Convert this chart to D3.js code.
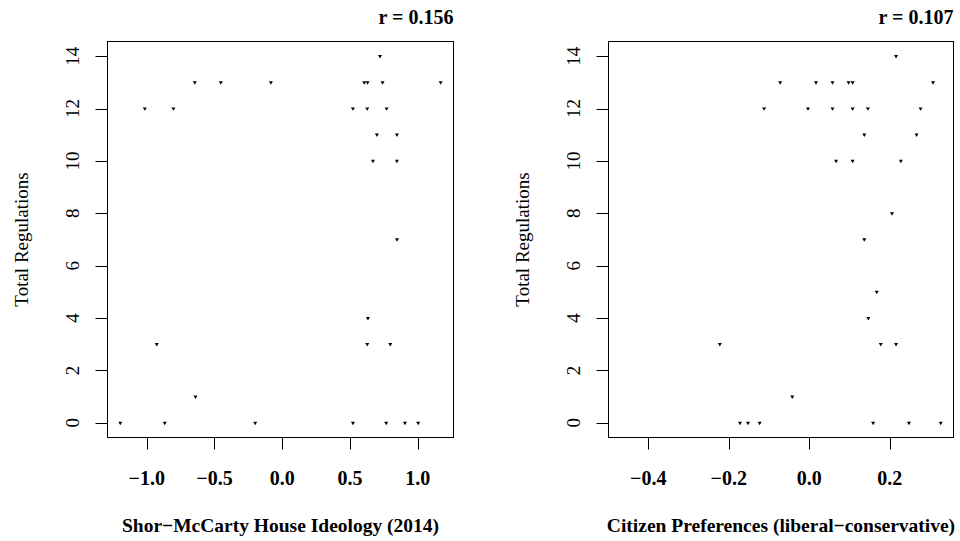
<!DOCTYPE html>
<html>
<head>
<meta charset="utf-8">
<script src="https://cdn.jsdelivr.net/npm/d3@7"></script>
<style>
  body { margin: 0; background: #fff; }
  text { font-family: "Liberation Serif", "DejaVu Serif", serif; fill: #000; }
</style>
</head>
<body>
<script>
// left panel: Shor-McCarty ideology vs total regulations
var ideology = [0.722,
    -0.645, -0.453, -0.083, 0.606, 0.630, 0.741, 1.170,
    -1.014, -0.803, 0.522, 0.628, 0.771,
    0.699, 0.847,
    0.670, 0.847,
    0.847,
    0.633,
    -0.926, 0.628, 0.798,
    -0.640,
    -1.195, -0.867, -0.199, 0.522, 0.768, 0.906, 1.004];
var ideologyRegs = [14,
    13, 13, 13, 13, 13, 13, 13,
    12, 12, 12, 12, 12,
    11, 11,
    10, 10,
    7,
    4,
    3, 3, 3,
    1,
    0, 0, 0, 0, 0, 0, 0];

// right panel: citizen preferences vs total regulations
var prefs = [0.216,
    -0.072, 0.017, 0.058, 0.098, 0.108, 0.308,
    -0.112, -0.003, 0.058, 0.108, 0.146, 0.277,
    0.137, 0.267,
    0.067, 0.108, 0.228,
    0.206,
    0.137,
    0.168,
    0.147,
    -0.222, 0.178, 0.216,
    -0.042,
    -0.172, -0.152, -0.123, 0.159, 0.248, 0.327];
var prefsRegs = [14,
    13, 13, 13, 13, 13, 13,
    12, 12, 12, 12, 12, 12,
    11, 11,
    10, 10, 10,
    8,
    7,
    5,
    4,
    3, 3, 3,
    1,
    0, 0, 0, 0, 0, 0];
var prefsXlim = [-0.467, 0.327];

var yTicks = [0, 2, 4, 6, 8, 10, 12, 14];
var ideologyTicks = [-1.0, -0.5, 0.0, 0.5, 1.0];
var prefsTicks = [-0.4, -0.2, 0.0, 0.2];
var rLabels = ["r = 0.156", "r = 0.107"];
var xTitles = ["Shor\u2212McCarty House Ideology (2014)", "Citizen Preferences (liberal\u2212conservative)"];
var yTitle = "Total Regulations";

var width = 960;
var height = 541;

var svg = d3.select("body").append("svg")
    .attr("width", width)
    .attr("height", height);

// R style axis range: data range padded 4% each side
function pad(ext) {
    var d = (ext[1] - ext[0]) * 0.04;
    return [ext[0] - d, ext[1] + d];
}

var plotTop = 41.5, plotBottom = 437.5;
var y = d3.scaleLinear().domain(pad([0, 14])).range([plotBottom, plotTop]);
var fmt = d3.format(".1f");

var panels = [
    {left: 107.5, right: 453.5, xs: ideology, ys: ideologyRegs,
     dom: pad(d3.extent(ideology)), ticks: ideologyTicks, shift: 0},
    {left: 608.5, right: 953.5, xs: prefs, ys: prefsRegs,
     dom: pad(prefsXlim), ticks: prefsTicks, shift: 501}
];

var tri = d3.symbol().type(d3.symbolTriangle).size(7);

panels.forEach(function(p, k) {
    var x = d3.scaleLinear().domain(p.dom).range([p.left, p.right]);
    var g = svg.append("g");

    // box
    g.append("rect")
        .attr("x", p.left)
        .attr("y", plotTop)
        .attr("width", p.right - p.left)
        .attr("height", plotBottom - plotTop)
        .attr("fill", "none")
        .attr("stroke", "#000")
        .attr("stroke-width", 1);

    // y axis ticks and labels
    g.selectAll(".ytick")
        .data(yTicks)
        .enter().append("line")
        .attr("x1", p.left - 12)
        .attr("x2", p.left)
        .attr("y1", function(d) { return Math.round(y(d)) + 0.5; })
        .attr("y2", function(d) { return Math.round(y(d)) + 0.5; })
        .attr("stroke", "#000");

    g.selectAll(".ylab")
        .data(yTicks)
        .enter().append("text")
        .attr("transform", function(d) {
            return "translate(" + (79 + p.shift) + "," + y(d) + ") rotate(-90)";
        })
        .attr("text-anchor", "middle")
        .style("font-size", "19px")
        .text(function(d) { return d; });

    // x axis ticks and labels
    g.selectAll(".xtick")
        .data(p.ticks)
        .enter().append("line")
        .attr("x1", function(d) { return Math.round(x(d)) + 0.5; })
        .attr("x2", function(d) { return Math.round(x(d)) + 0.5; })
        .attr("y1", plotBottom)
        .attr("y2", plotBottom + 12)
        .attr("stroke", "#000");

    g.selectAll(".xlab")
        .data(p.ticks)
        .enter().append("text")
        .attr("x", function(d) { return x(d); })
        .attr("y", 485)
        .attr("text-anchor", "middle")
        .style("font-size", "20px")
        .style("font-weight", "bold")
        .text(function(d) { return fmt(d); });

    // titles
    g.append("text")
        .attr("x", (p.left + p.right) / 2)
        .attr("y", 532)
        .attr("text-anchor", "middle")
        .style("font-size", "19.5px")
        .style("font-weight", "bold")
        .text(xTitles[k]);

    g.append("text")
        .attr("transform", "translate(" + (28 + p.shift) + "," + ((plotTop + plotBottom) / 2) + ") rotate(-90)")
        .attr("text-anchor", "middle")
        .style("font-size", "19px")
        .text(yTitle);

    g.append("text")
        .attr("x", p.right)
        .attr("y", 24)
        .attr("text-anchor", "end")
        .style("font-size", "20px")
        .style("font-weight", "bold")
        .text(rLabels[k]);

    // points
    g.selectAll(".pt")
        .data(p.xs)
        .enter().append("path")
        .attr("d", tri)
        .attr("transform", function(d, i) {
            return "translate(" + x(d) + "," + y(p.ys[i]) + ") rotate(180)";
        })
        .attr("fill", "#000");
});
</script>
</body>
</html>
